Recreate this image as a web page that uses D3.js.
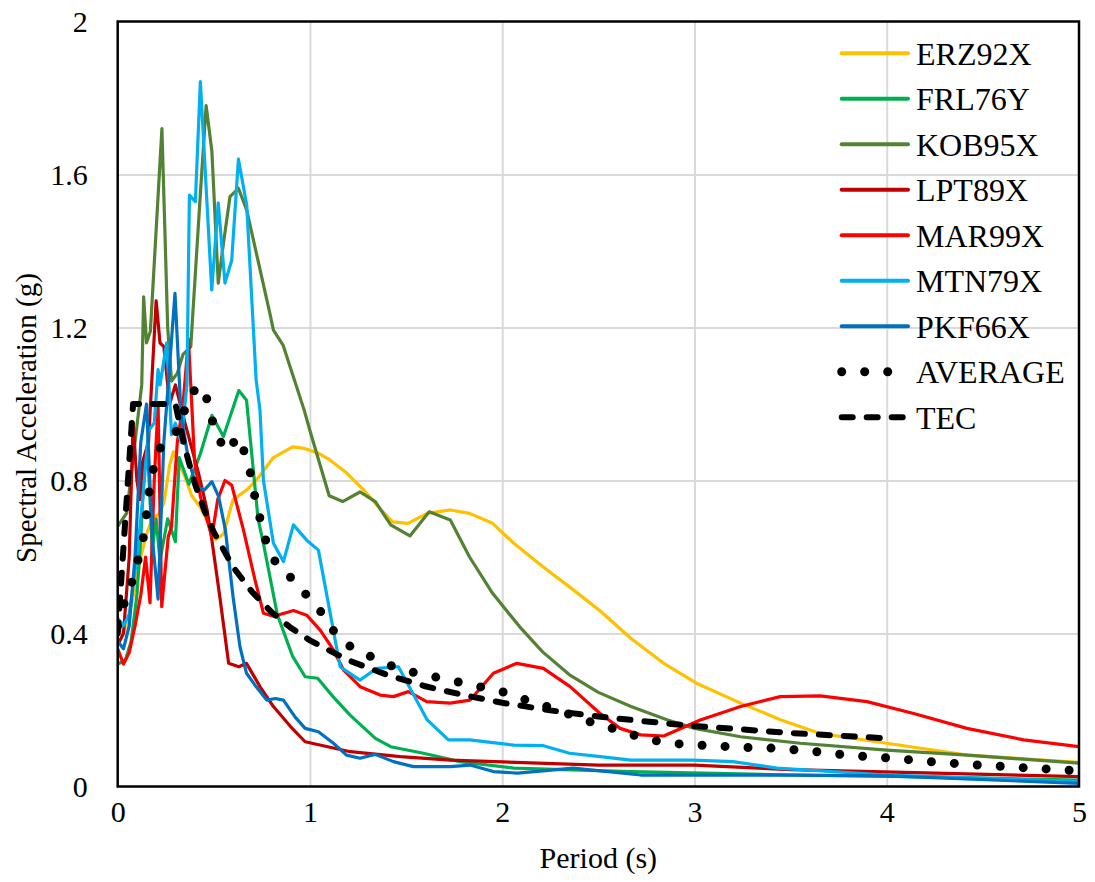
<!DOCTYPE html>
<html>
<head>
<meta charset="utf-8">
<script src="https://cdn.jsdelivr.net/npm/d3@7"></script>
<style>
  html, body { margin: 0; padding: 0; background: #fff; }
  svg text { font-family: "Liberation Serif", "Times New Roman", Tinos, "DejaVu Serif", serif !important; fill: #000; }
</style>
</head>
<body>
<svg id="chart" width="1095" height="882"></svg>
<script>
// ---------- data ----------
const xTicks = [0, 1, 2, 3, 4, 5];
const yTicks = [0, 0.4, 0.8, 1.2, 1.6, 2];
const yTickLabels = ["0", "0.4", "0.8", "1.2", "1.6", "2"];
const seriesNames = ["ERZ92X", "FRL76Y", "KOB95X", "LPT89X", "MAR99X", "MTN79X", "PKF66X", "AVERAGE", "TEC"];
const seriesColors = ["#FFC000", "#00B050", "#548235", "#C00000", "#FF0000", "#00B0F0", "#0070C0", "#000000", "#000000"];

const erzT  = [0, 0.03, 0.06, 0.09, 0.12, 0.15, 0.18, 0.21, 0.24, 0.27, 0.29, 0.31, 0.35, 0.385, 0.43, 0.47, 0.51, 0.55, 0.6, 0.67, 0.72, 0.81, 0.91, 0.97, 1.04, 1.1, 1.19, 1.28, 1.37, 1.43, 1.51, 1.61, 1.73, 1.83, 1.95, 2.06, 2.21, 2.37, 2.51, 2.67, 2.84, 3.01, 3.24, 3.45, 3.65, 4.0, 4.42, 5.0];
const erzSa = [0.42, 0.40, 0.45, 0.52, 0.6, 0.66, 0.70, 0.71, 0.74, 0.84, 0.875, 0.855, 0.81, 0.76, 0.73, 0.69, 0.645, 0.66, 0.75, 0.775, 0.80, 0.86, 0.888, 0.884, 0.872, 0.855, 0.82, 0.775, 0.723, 0.692, 0.688, 0.714, 0.723, 0.714, 0.688, 0.636, 0.575, 0.514, 0.459, 0.387, 0.322, 0.27, 0.218, 0.174, 0.139, 0.113, 0.082, 0.063];

const frlT  = [0, 0.04, 0.07, 0.1, 0.12, 0.14, 0.155, 0.18, 0.2, 0.22, 0.26, 0.3, 0.32, 0.37, 0.43, 0.49, 0.55, 0.63, 0.67, 0.73, 0.76, 0.83, 0.91, 0.975, 1.04, 1.12, 1.21, 1.34, 1.42, 1.59, 1.78, 2.06, 2.67, 3.5, 4.2, 5.0];
const frlSa = [0.32, 0.33, 0.38, 0.5, 0.65, 0.85, 0.89, 0.62, 0.70, 0.59, 0.70, 0.64, 0.86, 0.79, 0.87, 0.97, 0.915, 1.035, 1.01, 0.70, 0.63, 0.45, 0.34, 0.287, 0.283, 0.235, 0.186, 0.126, 0.104, 0.087, 0.065, 0.048, 0.039, 0.03, 0.025, 0.017];

const kobT  = [0, 0.047, 0.09, 0.125, 0.135, 0.15, 0.17, 0.23, 0.26, 0.28, 0.31, 0.34, 0.38, 0.43, 0.46, 0.49, 0.523, 0.55, 0.584, 0.628, 0.671, 0.79, 0.81, 0.86, 0.97, 1.0, 1.1, 1.17, 1.26, 1.34, 1.42, 1.52, 1.62, 1.73, 1.83, 1.95, 2.09, 2.21, 2.35, 2.5, 2.67, 2.86, 3.0, 3.24, 3.55, 4.0, 4.42, 5.0];
const kobSa = [0.68, 0.715, 0.9, 1.05, 1.28, 1.16, 1.19, 1.72, 1.2, 1.06, 1.08, 1.13, 1.15, 1.55, 1.78, 1.66, 1.316, 1.42, 1.542, 1.564, 1.507, 1.24, 1.193, 1.154, 0.984, 0.93, 0.76, 0.745, 0.77, 0.745, 0.684, 0.655, 0.718, 0.697, 0.60, 0.505, 0.418, 0.352, 0.292, 0.246, 0.209, 0.174, 0.152, 0.13, 0.113, 0.095, 0.082, 0.061];

const lptT  = [0, 0.03, 0.06, 0.08, 0.1, 0.115, 0.13, 0.16, 0.2, 0.22, 0.24, 0.27, 0.3, 0.35, 0.42, 0.465, 0.49, 0.53, 0.577, 0.63, 0.67, 0.74, 0.81, 0.9, 0.975, 1.21, 1.47, 1.73, 2.5, 3.0, 3.5, 5.0];
const lptSa = [0.37, 0.40, 0.6, 0.95, 0.8, 0.75, 0.85, 0.9, 1.27, 1.16, 1.15, 1.0, 1.05, 0.95, 0.82, 0.723, 0.644, 0.5, 0.322, 0.313, 0.322, 0.261, 0.209, 0.156, 0.117, 0.091, 0.078, 0.069, 0.056, 0.056, 0.044, 0.026];

const marT  = [0, 0.03, 0.06, 0.09, 0.12, 0.145, 0.168, 0.19, 0.21, 0.229, 0.263, 0.28, 0.31, 0.34, 0.368, 0.4, 0.43, 0.49, 0.52, 0.558, 0.593, 0.654, 0.714, 0.758, 0.81, 0.88, 0.914, 0.983, 1.053, 1.122, 1.174, 1.261, 1.365, 1.434, 1.512, 1.607, 1.729, 1.833, 1.954, 2.076, 2.214, 2.353, 2.509, 2.613, 2.72, 2.84, 3.03, 3.24, 3.446, 3.654, 3.897, 4.14, 4.417, 4.712, 5.0];
const marSa = [0.36, 0.32, 0.35, 0.42, 0.5, 0.6, 0.48, 0.8, 1.0, 0.47, 0.653, 0.68, 0.9, 1.0, 1.17, 0.85, 0.758, 0.653, 0.75, 0.80, 0.788, 0.671, 0.54, 0.453, 0.445, 0.455, 0.46, 0.448, 0.409, 0.357, 0.305, 0.261, 0.239, 0.235, 0.248, 0.222, 0.218, 0.226, 0.296, 0.322, 0.309, 0.261, 0.191, 0.152, 0.135, 0.132, 0.174, 0.209, 0.235, 0.237, 0.222, 0.191, 0.152, 0.122, 0.104];

const mtnT  = [0, 0.03, 0.06, 0.1, 0.13, 0.16, 0.19, 0.21, 0.22, 0.255, 0.28, 0.3, 0.33, 0.36, 0.373, 0.404, 0.43, 0.489, 0.523, 0.558, 0.593, 0.628, 0.671, 0.72, 0.74, 0.758, 0.81, 0.862, 0.914, 0.983, 1.044, 1.157, 1.26, 1.348, 1.46, 1.61, 1.72, 1.83, 2.06, 2.21, 2.35, 2.51, 2.67, 2.99, 3.2, 3.43, 4.0, 5.0];
const mtnSa = [0.44, 0.42, 0.45, 0.6, 0.75, 0.93, 0.95, 1.09, 1.05, 1.16, 0.92, 0.95, 0.9, 1.05, 1.546, 1.529, 1.843, 1.298, 1.525, 1.316, 1.376, 1.64, 1.52, 1.063, 0.984, 0.80, 0.636, 0.588, 0.684, 0.644, 0.618, 0.313, 0.278, 0.309, 0.313, 0.174, 0.122, 0.122, 0.108, 0.107, 0.087, 0.078, 0.069, 0.069, 0.065, 0.048, 0.030, 0.013];

const pkfT  = [0, 0.03, 0.06, 0.09, 0.12, 0.15, 0.18, 0.21, 0.24, 0.27, 0.298, 0.33, 0.37, 0.41, 0.45, 0.49, 0.525, 0.56, 0.6, 0.636, 0.67, 0.714, 0.775, 0.82, 0.862, 0.922, 0.975, 1.044, 1.122, 1.19, 1.26, 1.339, 1.434, 1.538, 1.73, 1.833, 1.954, 2.08, 2.37, 2.72, 3.5, 4.0, 5.0];
const pkfSa = [0.38, 0.36, 0.42, 0.6, 0.9, 1.0, 0.65, 0.49, 0.9, 1.1, 1.289, 0.967, 0.85, 0.784, 0.775, 0.797, 0.758, 0.671, 0.496, 0.365, 0.296, 0.265, 0.226, 0.23, 0.226, 0.182, 0.152, 0.143, 0.113, 0.082, 0.074, 0.084, 0.065, 0.052, 0.052, 0.056, 0.039, 0.035, 0.048, 0.030, 0.030, 0.028, 0.008];

const avgT  = [0, 0.02, 0.05, 0.08, 0.1, 0.12, 0.14, 0.16, 0.2, 0.25, 0.32, 0.345, 0.385, 0.45, 0.475, 0.51, 0.56, 0.63, 0.67, 0.70, 0.72, 0.75, 0.78, 0.84, 0.93, 1.0, 1.08, 1.14, 1.235, 1.339, 1.452, 1.573, 1.686, 1.8, 1.92, 2.03, 2.145, 2.266, 2.379, 2.48, 2.6, 2.71, 2.84, 2.95, 3.07, 3.19, 3.32, 3.44, 3.56, 3.68, 3.79, 3.91, 4.03, 4.16, 4.27, 4.39, 4.51, 4.63, 4.75, 4.87, 5.0];
const avgSa = [0.42, 0.46, 0.5, 0.544, 0.583, 0.614, 0.67, 0.76, 0.87, 0.905, 0.935, 0.98, 1.032, 1.045, 0.985, 0.928, 0.875, 0.915, 0.858, 0.80, 0.736, 0.684, 0.623, 0.57, 0.535, 0.488, 0.444, 0.392, 0.357, 0.335, 0.309, 0.294, 0.283, 0.27, 0.257, 0.244, 0.222, 0.204, 0.183, 0.165, 0.148, 0.130, 0.115, 0.110, 0.107, 0.104, 0.101, 0.100, 0.094, 0.089, 0.082, 0.078, 0.074, 0.068, 0.063, 0.059, 0.055, 0.052, 0.048, 0.045, 0.041];

const tecT  = [0, 0.08, 0.3, 0.35, 0.4, 0.45, 0.5, 0.6, 0.7, 0.8, 0.9, 1.0, 1.2, 1.4, 1.6, 1.8, 2.0, 2.25, 2.5, 2.75, 3.0, 3.25, 3.5, 3.75, 4.0];
const tecSa = [0.4, 1.0, 1.0, 0.884, 0.794, 0.723, 0.665, 0.574, 0.508, 0.456, 0.415, 0.382, 0.330, 0.292, 0.262, 0.239, 0.219, 0.199, 0.183, 0.170, 0.158, 0.149, 0.140, 0.133, 0.126];

const seriesT  = [erzT, frlT, kobT, lptT, marT, mtnT, pkfT, avgT, tecT];
const seriesSa = [erzSa, frlSa, kobSa, lptSa, marSa, mtnSa, pkfSa, avgSa, tecSa];

// ---------- layout ----------
const FONT = "'Liberation Serif', 'Times New Roman', Tinos, 'DejaVu Serif', serif";
const plot = { left: 117.7, right: 1079, top: 21.5, bottom: 786.5 };
const svg = d3.select("#chart");

const x = d3.scaleLinear().domain([0, 5]).range([plot.left, plot.right]);
const y = d3.scaleLinear().domain([0, 2]).range([plot.bottom, plot.top]);

// grid
const grid = svg.append("g");
grid.append("g")
  .attr("transform", `translate(0,${plot.bottom})`)
  .call(d3.axisBottom(x).tickValues(xTicks.slice(1, -1)).tickSize(-(plot.bottom - plot.top)).tickFormat(""))
  .call(g => g.select(".domain").remove())
  .call(g => g.selectAll("line").attr("stroke", "#d9d9d9").attr("stroke-width", 2));
grid.append("g")
  .attr("transform", `translate(${plot.left},0)`)
  .call(d3.axisLeft(y).tickValues(yTicks.slice(1, -1)).tickSize(-(plot.right - plot.left)).tickFormat(""))
  .call(g => g.select(".domain").remove())
  .call(g => g.selectAll("line").attr("stroke", "#d9d9d9").attr("stroke-width", 2));

// axes labels
svg.append("g")
  .attr("transform", `translate(${plot.left},0)`)
  .call(d3.axisLeft(y).tickValues(yTicks).tickSize(0).tickPadding(30)
        .tickFormat((d, i) => yTickLabels[i]))
  .attr("font-family", FONT)
  .call(g => g.select(".domain").remove())
  .call(g => g.selectAll("text").attr("font-size", 30).style("font-family", FONT));

svg.append("g")
  .attr("transform", `translate(0,${plot.bottom})`)
  .call(d3.axisBottom(x).tickValues(xTicks).tickSize(0).tickPadding(14).tickFormat(d3.format("d")))
  .attr("font-family", FONT)
  .call(g => g.select(".domain").remove())
  .call(g => g.selectAll("text").attr("font-size", 30).style("font-family", FONT));

// axis titles
svg.append("text")
  .attr("x", (plot.left + plot.right) / 2)
  .attr("y", 868)
  .attr("text-anchor", "middle")
  .attr("font-size", 30)
  .style("font-family", FONT)
  .text("Period (s)");
svg.append("text")
  .attr("transform", `translate(36,${(plot.top + plot.bottom) / 2 + 14}) rotate(-90)`)
  .attr("text-anchor", "middle")
  .attr("font-size", 29)
  .style("font-family", FONT)
  .text("Spectral Acceleration (g)");

// clip
svg.append("clipPath").attr("id", "clip")
  .append("rect").attr("x", plot.left).attr("y", plot.top)
  .attr("width", plot.right - plot.left).attr("height", plot.bottom - plot.top);

const line = d3.line().x(d => x(d[0])).y(d => y(d[1]));
const styleOf = i => {
  if (seriesNames[i] === "AVERAGE") return { w: 9, dash: "0 23", cap: "round" };
  if (seriesNames[i] === "TEC") return { w: 6, dash: "11 14", cap: "round" };
  return { w: 3.2, dash: null, cap: "round" };
};

const lines = svg.append("g").attr("clip-path", "url(#clip)");
seriesNames.forEach((name, i) => {
  const pts = seriesT[i].map((t, k) => [t, seriesSa[i][k]]);
  const s = styleOf(i);
  lines.append("path")
    .datum(pts)
    .attr("d", line)
    .attr("fill", "none")
    .attr("stroke", seriesColors[i])
    .attr("stroke-width", s.w)
    .attr("stroke-linejoin", "round")
    .attr("stroke-linecap", s.cap)
    .attr("stroke-dasharray", s.dash);
});

// frame
svg.append("rect")
  .attr("x", plot.left).attr("y", plot.top)
  .attr("width", plot.right - plot.left).attr("height", plot.bottom - plot.top)
  .attr("fill", "none").attr("stroke", "#000").attr("stroke-width", 2.5);

// legend
const legend = svg.append("g");
seriesNames.forEach((name, i) => {
  const yy = 53.3 + i * 45.5;
  const s = styleOf(i);
  legend.append("line")
    .attr("x1", 841.7).attr("x2", 908).attr("y1", yy).attr("y2", yy)
    .attr("stroke", seriesColors[i])
    .attr("stroke-width", s.w === 3.2 ? 4 : s.w)
    .attr("stroke-linecap", s.cap)
    .attr("stroke-dasharray", s.dash);
  legend.append("text")
    .attr("x", 916).attr("y", yy)
    .attr("dy", "0.35em")
    .attr("font-size", 32)
    .style("font-family", FONT)
    .text(name);
});
</script>
</body>
</html>
